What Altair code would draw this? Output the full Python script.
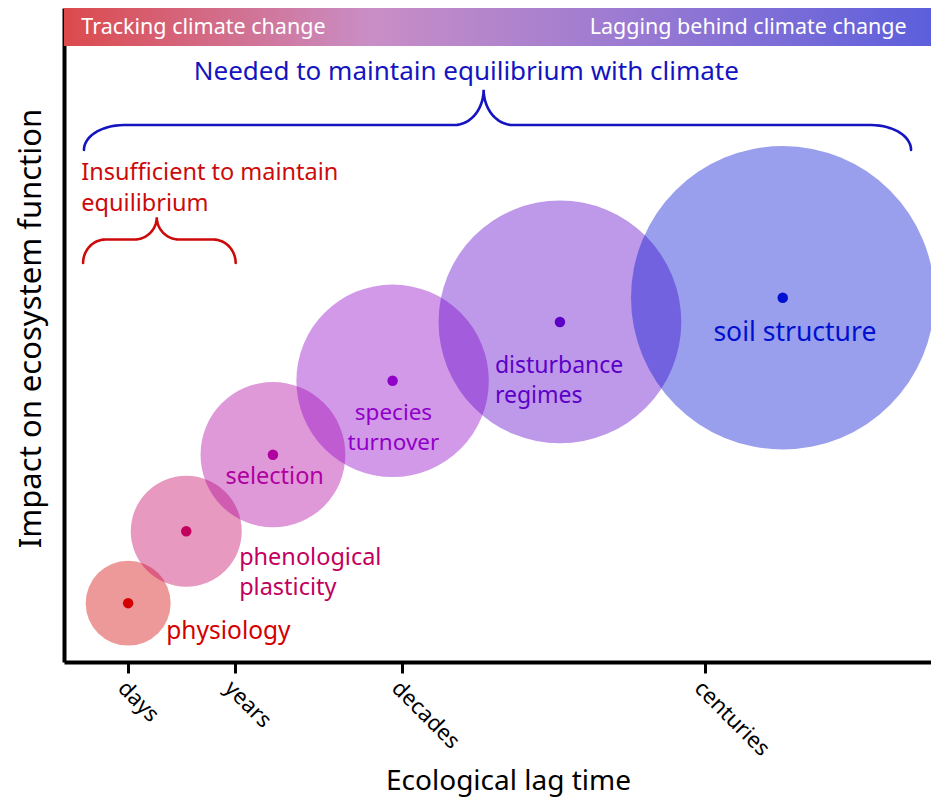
import altair as alt
import pandas as pd
import numpy as np

# ---------------- data ----------------
processes = ["physiology", "phenological plasticity", "selection",
             "species turnover", "disturbance regimes", "soil structure"]
lag_time = [7.4, 14.1, 24.1, 37.9, 57.2, 82.9]        # x (lag-time units 0-100)
impact = [9.0, 20.0, 31.7, 43.0, 52.0, 55.7]          # y (impact units 0-100)
spread = [4.9, 6.4, 8.35, 11.1, 14.0, 17.5]           # circle radius in lag-time units
colors = ["#d40000", "#c2005e", "#b000a0", "#9000c8", "#5c00c8", "#0010d0"]

label_text = ["physiology", "phenological\nplasticity", "selection",
              "species\nturnover", "disturbance\nregimes", "soil structure"]
label_x = [11.8, 20.2, 24.3, 38.0, 49.7, 84.3]
label_y = [4.6, 15.9, 28.3, 38.1, 45.3, 50.3]
label_align = ["left", "left", "center", "center", "left", "center"]
label_size = [24.5, 23.5, 23.5, 22.5, 23, 26.5]

tick_values = [7.4, 19.7, 39.0, 73.9]
tick_labels = ["days", "years", "decades", "centuries"]

# braces: x_start, x_end, x_tip, y_end, y_flat, y_tip, end_radius, tip_radius, color
brace_names = ["needed", "insufficient"]
brace_x0 = [2.3, 2.2]
brace_x1 = [97.7, 19.8]
brace_xt = [48.4, 10.7]
brace_yb = [78.3, 61.0]
brace_yf = [82.1, 64.6]
brace_yt = [87.5, 68.0]
brace_re = [4.6, 2.6]
brace_rt = [3.4, 2.6]
brace_colors = ["#1414c0", "#cc0a0a"]

annot_text = ["Needed to maintain equilibrium with climate",
              "Insufficient to maintain\nequilibrium"]
annot_x = [46.4, 2.0]
annot_y = [90.2, 74.8]
annot_align = ["center", "left"]

header_text = ["Tracking climate change", "Lagging behind climate change"]
header_x = [2.0, 97.2]
header_y = [96.9, 96.9]
header_align = ["left", "right"]
bar_x, bar_x2, bar_y, bar_y2 = 0, 101, 94.2, 100.3

# ---------------- layout ----------------
W, H = 867, 654
PX_PER_X = W / 100.0
FONT = "Noto Sans"

xs = alt.Scale(domain=[0, 100], nice=False, zero=False)
ys = alt.Scale(domain=[0, 100], nice=False, zero=False)

df = pd.DataFrame({
    "process": processes, "lag": lag_time, "impact": impact,
    "area": [s ** 2 for s in spread], "color": colors,
})

# vega circle symbol: diameter = sqrt(size)
size_scale = alt.Scale(domain=[0, max(spread) ** 2],
                       range=[0, (2 * max(spread) * PX_PER_X) ** 2])

x_axis = alt.Axis(
    values=tick_values,
    labelExpr="{" + ",".join("'%g':'%s'" % (v, l) for v, l in zip(tick_values, tick_labels)) + "}[datum.value]",
    labelAngle=45, labelAlign="left", labelBaseline="top",
    labelFontSize=22, labelFont=FONT, labelColor="black", labelPadding=4,
    tickSize=11, tickWidth=3, tickColor="black",
    domainWidth=4, domainColor="black", grid=False,
    title="Ecological lag time", titleFont=FONT, titleFontSize=28,
    titleFontWeight="normal", titleColor="black",
    titleX=444, titleY=119, titleBaseline="middle", titleAnchor="start", titleAlign="center",
)
y_axis = alt.Axis(
    labels=False, ticks=False, grid=False, domainWidth=4, domainColor="black",
    title="Impact on ecosystem function", titleFont=FONT, titleFontSize=31,
    titleFontWeight="normal", titleColor="black",
    titleX=-33, titleY=320, titleBaseline="middle", titleAlign="center", titleAngle=-90,
)

base = alt.Chart(df)

circles = base.mark_circle(opacity=0.4, stroke=None).encode(
    x=alt.X("lag:Q", scale=xs, axis=x_axis),
    y=alt.Y("impact:Q", scale=ys, axis=y_axis),
    size=alt.Size("area:Q", scale=size_scale, legend=None),
    color=alt.Color("color:N", scale=None),
)
dots = base.mark_circle(opacity=1, size=110).encode(
    x=alt.X("lag:Q", scale=xs), y=alt.Y("impact:Q", scale=ys),
    color=alt.Color("color:N", scale=None),
)

lab = pd.DataFrame({"text": label_text, "x": label_x, "y": label_y,
                    "align": label_align, "size": label_size, "color": colors})
label_layers = []
for al in ["left", "center"]:
    sub = lab[lab["align"] == al]
    label_layers.append(
        alt.Chart(sub).mark_text(align=al, baseline="middle", font=FONT,
                                 lineBreak="\n", lineHeight=30).encode(
            x=alt.X("x:Q", scale=xs), y=alt.Y("y:Q", scale=ys),
            text="text:N", color=alt.Color("color:N", scale=None),
            size=alt.Size("size:Q", scale=None, legend=None),
        )
    )

# brace geometry built from the brace parameters
rows = []
for i, nm in enumerate(brace_names):
    x0, x1, xt = brace_x0[i], brace_x1[i], brace_xt[i]
    yb, yf, yt = brace_yb[i], brace_yf[i], brace_yt[i]
    re_, rt = brace_re[i], brace_rt[i]
    pts = []
    t = np.linspace(0, np.pi / 2, 16)
    for a in t:
        pts.append((x0 + re_ - re_ * np.cos(a), yb + (yf - yb) * np.sin(a)))
    for a in t:
        pts.append((xt - rt + rt * np.sin(a), yt - (yt - yf) * np.cos(a)))
    for a in t[::-1]:
        pts.append((xt + rt - rt * np.sin(a), yt - (yt - yf) * np.cos(a)))
    for a in t[::-1]:
        pts.append((x1 - re_ + re_ * np.cos(a), yb + (yf - yb) * np.sin(a)))
    for k, (px, py) in enumerate(pts):
        rows.append({"brace": nm, "order": k, "x": px, "y": py, "color": brace_colors[i]})
braces = alt.Chart(pd.DataFrame(rows)).mark_line(strokeWidth=2.6, strokeCap="round").encode(
    x=alt.X("x:Q", scale=xs), y=alt.Y("y:Q", scale=ys),
    order="order:Q", detail="brace:N",
    color=alt.Color("color:N", scale=None),
)

ann = pd.DataFrame({"text": annot_text, "x": annot_x, "y": annot_y,
                    "align": annot_align, "color": brace_colors})
ann_layers = []
for al, fs in [("center", 26), ("left", 23.5)]:
    ann_layers.append(
        alt.Chart(ann[ann["align"] == al]).mark_text(
            align=al, baseline="middle", font=FONT, fontSize=fs,
            lineBreak="\n", lineHeight=31).encode(
            x=alt.X("x:Q", scale=xs), y=alt.Y("y:Q", scale=ys),
            text="text:N", color=alt.Color("color:N", scale=None),
        )
    )

bar = alt.Chart(pd.DataFrame({"x": [bar_x], "x2": [bar_x2], "y": [bar_y], "y2": [bar_y2]})).mark_rect(
    color=alt.Gradient(
        gradient="linear",
        stops=[alt.GradientStop(color="#dc4a4c", offset=0),
               alt.GradientStop(color="#c98ec6", offset=0.35),
               alt.GradientStop(color="#9a7ad2", offset=0.65),
               alt.GradientStop(color="#5a5edc", offset=1)],
        x1=0, x2=1, y1=0, y2=0),
).encode(x=alt.X("x:Q", scale=xs), x2="x2:Q", y=alt.Y("y:Q", scale=ys), y2="y2:Q")

hdr = pd.DataFrame({"text": header_text, "x": header_x, "y": header_y, "align": header_align})
hdr_layers = []
for al in ["left", "right"]:
    hdr_layers.append(
        alt.Chart(hdr[hdr["align"] == al]).mark_text(
            align=al, baseline="middle", font=FONT, fontSize=21.5, color="white").encode(
            x=alt.X("x:Q", scale=xs), y=alt.Y("y:Q", scale=ys), text="text:N")
    )

chart = alt.layer(
    circles, dots, *label_layers, braces, *ann_layers, bar, *hdr_layers
).properties(
    width=W, height=H,
    autosize=alt.AutoSizeParams(type="none"),
    padding={"left": 56, "top": 0, "right": 0, "bottom": 140},
).configure_view(stroke=None).configure(background="white")

chart.save("out.html", embed_options={"renderer": "svg", "actions": False})
